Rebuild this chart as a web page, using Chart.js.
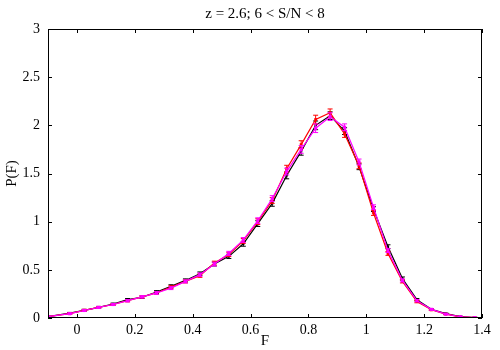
<!DOCTYPE html>
<html>
<head>
<meta charset="utf-8">
<script src="https://cdn.jsdelivr.net/npm/chart.js@4.4.0/dist/chart.umd.min.js"></script>
<style>
    html, body { margin: 0; padding: 0; background: #fff; }
    #wrap { width: 500px; height: 350px; }
</style>
</head>
<body>
<div id="wrap"><canvas id="pfChart"></canvas></div>
<script>
    // bin centres of F
    const F = [-0.1, -0.025, 0.025, 0.075, 0.125, 0.175, 0.225, 0.275, 0.325, 0.375,
        0.425, 0.475, 0.525, 0.575, 0.625, 0.675, 0.725, 0.775, 0.825, 0.875,
        0.925, 0.975, 1.025, 1.075, 1.125, 1.175, 1.225, 1.275, 1.325, 1.375]
    // P(F)
    const blackP = [0.015, 0.05, 0.08, 0.11, 0.145, 0.19, 0.215, 0.27, 0.33, 0.39,
        0.46, 0.56, 0.64, 0.77, 0.98, 1.19, 1.48, 1.73, 2.00, 2.10,
        1.94, 1.57, 1.13, 0.74, 0.41, 0.19, 0.09, 0.045, 0.015, 0.005]
    const redP = [0.015, 0.045, 0.08, 0.11, 0.14, 0.18, 0.22, 0.26, 0.32, 0.38,
        0.44, 0.57, 0.66, 0.80, 1.00, 1.22, 1.55, 1.80, 2.06, 2.13,
        1.91, 1.58, 1.09, 0.67, 0.38, 0.17, 0.085, 0.04, 0.012, 0.004]
    const magentaP = [0.015, 0.045, 0.078, 0.11, 0.14, 0.18, 0.22, 0.26, 0.31, 0.38,
        0.45, 0.56, 0.67, 0.81, 1.01, 1.24, 1.52, 1.75, 1.97, 2.09,
        1.98, 1.62, 1.15, 0.70, 0.39, 0.18, 0.09, 0.04, 0.013, 0.004]
    // error bar half-heights (same for all three runs)
    const errP = [0.005, 0.008, 0.01, 0.01, 0.01, 0.012, 0.012, 0.014, 0.015, 0.016,
        0.018, 0.02, 0.022, 0.025, 0.03, 0.03, 0.035, 0.04, 0.045, 0.04,
        0.035, 0.03, 0.025, 0.02, 0.016, 0.012, 0.008, 0.006, 0.004, 0.003]
    const xTicks = [0, 0.2, 0.4, 0.6, 0.8, 1, 1.2, 1.4]
    const yTicks = [0, 0.5, 1, 1.5, 2, 2.5, 3]

    const serif = "'Liberation Serif', 'DejaVu Serif', serif"

    function pts(ys) {
        return F.map((x, i) => ({ x: x, y: ys[i] }))
    }

    // error bars, drawn right after each dataset so layering follows the lines
    const errorBars = {
        id: 'errorBars',
        afterDatasetDraw(chart, args) {
            const ctx = chart.ctx
            const ds = chart.data.datasets[args.index]
            const xs = chart.scales.x, ys = chart.scales.y
            const a = chart.chartArea
            ctx.save()
            ctx.beginPath()
            ctx.rect(a.left, a.top, a.right - a.left, a.bottom - a.top)
            ctx.clip()
            ctx.strokeStyle = ds.borderColor
            ctx.lineWidth = 1
            ds.data.forEach((p, i) => {
                const px = xs.getPixelForValue(p.x)
                const y1 = ys.getPixelForValue(p.y + errP[i])
                const y2 = ys.getPixelForValue(Math.max(0, p.y - errP[i]))
                ctx.beginPath()
                ctx.moveTo(px, y1); ctx.lineTo(px, y2)
                ctx.moveTo(px - 2.5, y1); ctx.lineTo(px + 2.5, y1)
                ctx.moveTo(px - 2.5, y2); ctx.lineTo(px + 2.5, y2)
                ctx.stroke()
            })
            ctx.restore()
        }
    }

    // gnuplot-like frame with inward ticks on all four sides
    const frame = {
        id: 'frame',
        afterDraw(chart) {
            const ctx = chart.ctx
            const a = chart.chartArea
            const xs = chart.scales.x, ys = chart.scales.y
            const len = 4
            ctx.save()
            ctx.strokeStyle = '#000'
            ctx.lineWidth = 1
            ctx.strokeRect(a.left + 0.5, a.top + 0.5, a.right - a.left - 1, a.bottom - a.top - 1)
            ctx.beginPath()
            xTicks.forEach(v => {
                const px = Math.round(xs.getPixelForValue(v)) + 0.5
                ctx.moveTo(px, a.bottom); ctx.lineTo(px, a.bottom - len)
                ctx.moveTo(px, a.top); ctx.lineTo(px, a.top + len)
            })
            yTicks.forEach(v => {
                const py = Math.round(ys.getPixelForValue(v)) + 0.5
                ctx.moveTo(a.left, py); ctx.lineTo(a.left + len, py)
                ctx.moveTo(a.right, py); ctx.lineTo(a.right - len, py)
            })
            ctx.stroke()
            ctx.restore()
        }
    }

    Chart.defaults.font.family = serif
    Chart.defaults.color = '#000'

    new Chart(document.getElementById('pfChart'), {
        type: 'line',
        data: {
            datasets: [
                {
                    label: 'magenta', data: pts(magentaP),
                    borderColor: '#ff00ff', backgroundColor: '#ff00ff',
                    borderWidth: 1.2, pointStyle: 'rect', pointRadius: 2.2, pointBorderWidth: 0
                },
                {
                    label: 'red', data: pts(redP),
                    borderColor: '#ff0000', backgroundColor: '#ff0000',
                    borderWidth: 1.2, pointStyle: 'rect', pointRadius: 2, pointBorderWidth: 0
                },
                {
                    label: 'black', data: pts(blackP),
                    borderColor: '#000000', backgroundColor: '#000000',
                    borderWidth: 1.2, pointStyle: 'rect', pointRadius: 1.6, pointBorderWidth: 0
                }
            ]
        },
        options: {
            responsive: true,
            maintainAspectRatio: false,
            animation: false,
            layout: { padding: { left: 3, right: 18, top: 0, bottom: 0 } },
            plugins: {
                legend: { display: false },
                tooltip: { enabled: false },
                title: {
                    display: true,
                    text: 'z = 2.6; 6 < S/N < 8',
                    fullSize: false,
                    font: { family: serif, size: 15, weight: 'normal' },
                    padding: { top: 5, bottom: 6 }
                }
            },
            scales: {
                x: {
                    type: 'linear', min: -0.1, max: 1.4,
                    grid: { display: false, drawTicks: false },
                    border: { display: false },
                    afterBuildTicks: s => { s.ticks = xTicks.map(v => ({ value: v })) },
                    afterFit: s => { s.height = 32 },
                    ticks: { font: { size: 14 }, padding: 4, maxRotation: 0, callback: v => String(v) },
                    title: { display: true, text: 'F', font: { size: 15 }, padding: { top: 0, bottom: 0 } }
                },
                y: {
                    type: 'linear', min: 0, max: 3,
                    grid: { display: false, drawTicks: false },
                    border: { display: false },
                    afterBuildTicks: s => { s.ticks = yTicks.map(v => ({ value: v })) },
                    afterFit: s => { s.width = 45 },
                    ticks: { font: { size: 14 }, padding: 8, callback: v => String(v) },
                    title: { display: true, text: 'P(F)', font: { size: 15 }, padding: { top: 0, bottom: 0 } }
                }
            }
        },
        plugins: [errorBars, frame]
    })
</script>
</body>
</html>
